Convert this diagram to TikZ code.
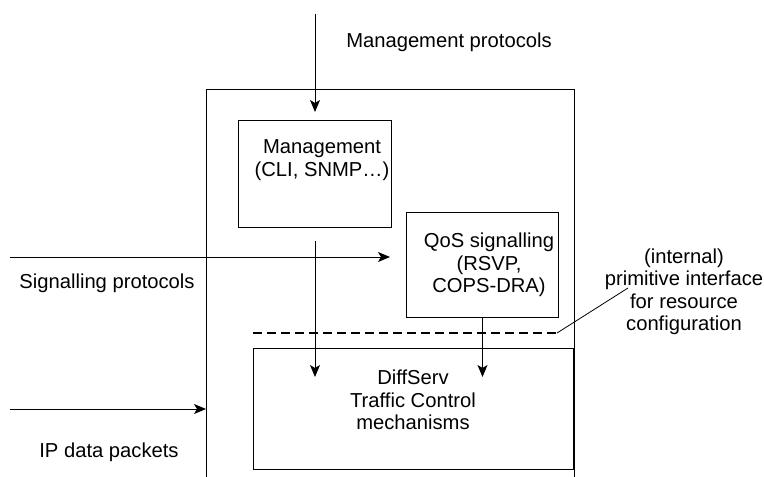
\documentclass[tikz,border=0pt]{standalone}
\usepackage{fontspec}
\setmainfont{Liberation Sans}
\usepackage{tikz}
\usetikzlibrary{arrows.meta}

\begin{document}
\begin{tikzpicture}[x=1pt, y=-1pt,
    every node/.style={font=\fontsize{20.2}{22.5}\selectfont, align=center},
    block/.style={draw, line width=1pt, inner sep=0pt, anchor=north west},
    flow/.style={line width=1pt, -{Stealth[length=12pt,width=10pt,inset=3pt]}},
    iface/.style={line width=1.6pt, dash pattern=on 9pt off 5pt}]

    \useasboundingbox (0,0) rectangle (764,477);

    %Router frame (open at the bottom)
    \draw[line width=1pt] (206,477) -- (206,89) -- (574,89) -- (574,477); %Frame

    %Blocks
    \node[block, minimum width=153pt, minimum height=107pt] (mgmt) at (238,120) {}; %Management
    \node[block, minimum width=152pt, minimum height=105pt] (qos) at (406,212) {}; %QoS signalling
    \node[block, minimum width=320pt, minimum height=121pt] (diffserv) at (253,348) {}; %DiffServ

    %Block texts
    \node (mgmtlbl) at (322,160) {Management\\(CLI, SNMP…)}; %Management
    \node (qoslbl) at (489,265) {QoS signalling\\(RSVP,\\COPS-DRA)}; %QoS
    \node (difflbl) at (413,400) {DiffServ\\Traffic Control\\mechanisms}; %DiffServ

    %Outside texts
    \node (mgmtproto) at (449,42) {Management protocols}; %Top
    \node (sigproto) at (107,283) {Signalling protocols}; %Left up
    \node (ipdata) at (109,452) {IP data packets}; %Left down
    \node (ifacelbl) at (684,292) {(internal)\\primitive interface\\for resource\\configuration}; %Right

    %Free ends
    \coordinate (mgmtin) at (315,14);
    \coordinate (sigin) at (10,257);
    \coordinate (sigout) at (390,257);
    \coordinate (ipin) at (10,409);
    \coordinate (ipout) at (206,409);
    \coordinate (cfgend) at (315,377);
    \coordinate (dashl) at (253,333);
    \coordinate (dashr) at (557,333);
    \coordinate (pointer) at (628,288);

    %Arrows
    \draw[flow, shorten >=8pt] (mgmtin) -- (mgmtin |- mgmt.north); %Management protocols in
    \draw[flow] (sigin) -- (sigout); %Signalling in
    \draw[flow] (ipin) -- (ipout); %IP packets in
    \draw[flow, shorten <=13pt] (mgmt.south) -- (cfgend); %Management down
    \draw[flow] (qos.south) -- (qos.south |- cfgend); %QoS down

    %Internal interface
    \draw[iface] (dashl) -- (dashr); %Dashed line
    \draw[line width=0.8pt] (dashr) -- (pointer); %Pointer to label

\end{tikzpicture}
\end{document}
